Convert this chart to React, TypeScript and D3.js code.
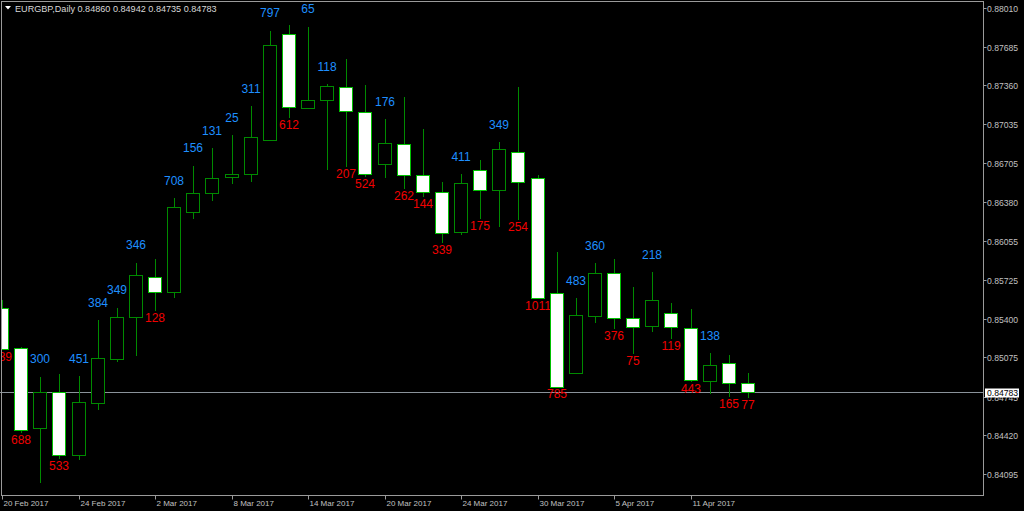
import * as d3 from 'd3'

// daily bars, EURGBP 20 Feb – 14 Apr 2017
const dates = [
  '2017-02-20', '2017-02-21', '2017-02-22', '2017-02-23', '2017-02-24',
  '2017-02-27', '2017-02-28', '2017-03-01', '2017-03-02', '2017-03-03',
  '2017-03-06', '2017-03-07', '2017-03-08', '2017-03-09', '2017-03-10',
  '2017-03-13', '2017-03-14', '2017-03-15', '2017-03-16', '2017-03-17',
  '2017-03-20', '2017-03-21', '2017-03-22', '2017-03-23', '2017-03-24',
  '2017-03-27', '2017-03-28', '2017-03-29', '2017-03-30', '2017-03-31',
  '2017-04-03', '2017-04-04', '2017-04-05', '2017-04-06', '2017-04-07',
  '2017-04-10', '2017-04-11', '2017-04-12', '2017-04-13', '2017-04-14',
]
const opens = [
  0.85487, 0.8515, 0.8448, 0.84786, 0.84252, 0.84689, 0.85061, 0.85417, 0.85753, 0.85627,
  0.86299, 0.86453, 0.86588, 0.86613, 0.86901, 0.87789, 0.87172, 0.87237, 0.87349, 0.87139,
  0.86697, 0.8687, 0.8661, 0.86462, 0.86126, 0.86652, 0.86478, 0.86798, 0.86584, 0.85613,
  0.84946, 0.85425, 0.85781, 0.85406, 0.85336, 0.85445, 0.85324, 0.84876, 0.85028, 0.8486,
]
const highs = [
  0.85557, 0.85159, 0.84912, 0.84933, 0.84918, 0.85389, 0.85492, 0.8587, 0.85901, 0.86414,
  0.86685, 0.86831, 0.86943, 0.87187, 0.87819, 0.87867, 0.87853, 0.87372, 0.87582, 0.87363,
  0.87075, 0.8726, 0.86993, 0.86546, 0.86615, 0.86736, 0.86882, 0.87344, 0.86607, 0.85958,
  0.85571, 0.85865, 0.85899, 0.85669, 0.85792, 0.85529, 0.85479, 0.85109, 0.85095, 0.84942,
]
const lows = [
  0.8514, 0.8444, 0.84022, 0.84219, 0.84213, 0.84633, 0.85039, 0.85089, 0.85464, 0.85576,
  0.86237, 0.86389, 0.86529, 0.86548, 0.86893, 0.87083, 0.87159, 0.86649, 0.86674, 0.86594,
  0.86584, 0.86487, 0.86425, 0.86038, 0.86103, 0.86235, 0.86173, 0.86229, 0.85565, 0.84822,
  0.84941, 0.85366, 0.85311, 0.85103, 0.85286, 0.85229, 0.84871, 0.84765, 0.84739, 0.84735,
]
const closes = [
  0.85148, 0.84462, 0.8478, 0.84253, 0.84703, 0.85073, 0.8541, 0.85763, 0.85625, 0.86335,
  0.86455, 0.86584, 0.86613, 0.86924, 0.87698, 0.87177, 0.87237, 0.87355, 0.87142, 0.86615,
  0.86873, 0.86608, 0.86466, 0.86123, 0.86537, 0.86477, 0.86827, 0.86544, 0.85573, 0.84828,
  0.85429, 0.85785, 0.85405, 0.85331, 0.85554, 0.85326, 0.84881, 0.85014, 0.84863, 0.84783,
]
// body size in points, as printed over / under each bar
const bodyLabels = [
  339, 688, 300, 533, 451, 384, 349, 346, 128, 708,
  156, 131, 25, 311, 797, 612, 65, 118, 207, 524,
  176, 262, 144, 339, 411, 175, 349, 254, 1011, 785,
  483, 360, 376, 75, 218, 119, 443, 138, 165, 77,
]
const priceTicks = [
  '0.88010', '0.87685', '0.87360', '0.87035', '0.86705', '0.86380', '0.86055',
  '0.85725', '0.85400', '0.85075', '0.84745', '0.84420', '0.84095',
]

const W = 1024
const H = 511
const plot = { left: 1.5, top: 1.5, right: 983.5, bottom: 495.5 }

const upStroke = '#008a00'
const downStroke = '#00c000'
const wickColor = '#008a00'
const axisColor = '#c0c0c0'
const frameColor = '#9a9a9a'

export default function App() {
  const x = d3.scaleLinear().domain([0, dates.length - 1]).range([2, 748])
  const y = d3.scaleLinear().domain([0.84095, 0.8801]).range([474, 8])
  const parse = d3.timeParse('%Y-%m-%d')
  const fmt = d3.timeFormat('%-d %b %Y')

  const last = closes[closes.length - 1]
  const yLast = Math.round(y(last)) + 0.5

  return (
    <svg
      width={W}
      height={H}
      style={{ position: 'fixed', left: 0, top: 0, background: '#000' }}
      fontFamily="'Liberation Sans', Arial, sans-serif"
    >
      <defs>
        <clipPath id="plotClip">
          <rect x={plot.left} y={plot.top} width={plot.right - plot.left} height={plot.bottom - plot.top} />
        </clipPath>
      </defs>
      <rect width={W} height={H} fill="#000" />

      {/* current price line */}
      <line x1={0} x2={plot.right} y1={yLast} y2={yLast} stroke="#8a929a" strokeWidth={1} />

      <g clipPath="url(#plotClip)">
        {dates.map((d, i) => {
          const cx = Math.round(x(i))
          const up = closes[i] > opens[i]
          const top = Math.round(y(Math.max(opens[i], closes[i])))
          const bot = Math.round(y(Math.min(opens[i], closes[i])))
          return (
            <g key={d}>
              <line
                x1={cx + 0.5}
                x2={cx + 0.5}
                y1={Math.round(y(highs[i]))}
                y2={Math.round(y(lows[i]))}
                stroke={wickColor}
              />
              <rect
                x={cx - 6.5}
                y={top + 0.5}
                width={13}
                height={Math.max(bot - top, 1)}
                fill={up ? '#000' : '#fff'}
                stroke={up ? upStroke : downStroke}
              />
              {up ? (
                <text x={cx} y={y(highs[i]) - 13.3} textAnchor="middle" fontSize={12} fill="#1e8fff">
                  {bodyLabels[i]}
                </text>
              ) : (
                <text x={cx} y={y(lows[i]) + 11} textAnchor="middle" fontSize={12} fill="#f00000">
                  {bodyLabels[i]}
                </text>
              )}
            </g>
          )
        })}
      </g>

      {/* frame */}
      <rect
        x={plot.left}
        y={plot.top}
        width={plot.right - plot.left}
        height={plot.bottom - plot.top}
        fill="none"
        stroke={frameColor}
      />

      {/* price axis */}
      {priceTicks.map((t) => {
        const ty = Math.round(y(+t)) + 0.5
        return (
          <g key={t}>
            <line x1={plot.right} x2={plot.right + 3} y1={ty} y2={ty} stroke={frameColor} />
            <text x={987} y={ty + 3} fontSize={8.6} fill={axisColor}>
              {t}
            </text>
          </g>
        )
      })}
      <rect x={985} y={yLast - 4} width={34} height={9} fill="#fff" />
      <text x={987} y={yLast + 3.5} fontSize={8.6} fill="#000">
        {last.toFixed(5)}
      </text>

      {/* date axis */}
      {dates.map((d, i) => {
        if (i % 4 !== 0) return null
        const tx = Math.round(x(i)) + 0.5
        return (
          <g key={d}>
            <line x1={tx} x2={tx} y1={plot.bottom} y2={plot.bottom + 4} stroke={frameColor} />
            <text x={tx + 1} y={506} fontSize={8} fill={axisColor}>
              {fmt(parse(d) as Date)}
            </text>
          </g>
        )
      })}

      {/* header */}
      <path d="M5,6 L11,6 L8,9.5 Z" fill="#fff" />
      <text x={15} y={11.5} fontSize={9.1} fill="#d8d8d8">
        {`EURGBP,Daily  ${opens[opens.length - 1].toFixed(5)} ${highs[highs.length - 1].toFixed(5)} ${lows[lows.length - 1].toFixed(5)} ${last.toFixed(5)}`}
      </text>
    </svg>
  )
}
